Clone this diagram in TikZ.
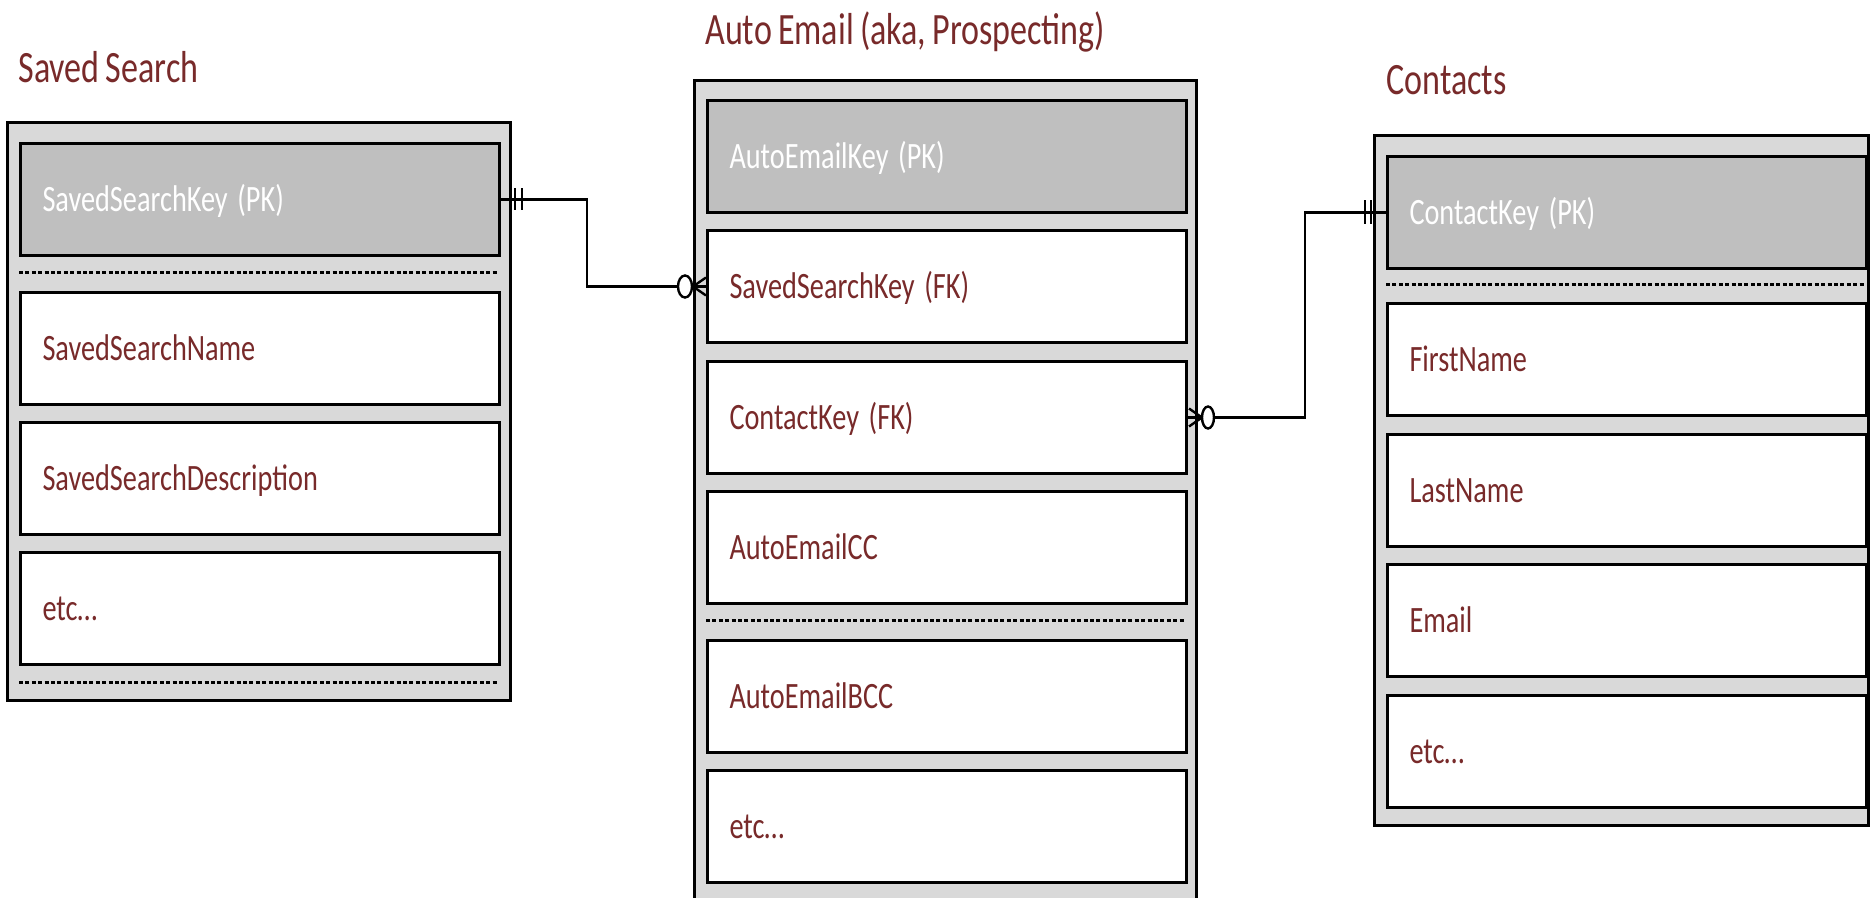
\documentclass[tikz,border=0pt]{standalone}
\usepackage{fontspec}
\setmainfont{Carlito}[FakeStretch=0.76,WordSpace=0.8]
\usetikzlibrary{calc}
\definecolor{tabgray}{RGB}{217,217,217}
\definecolor{keygray}{RGB}{191,191,191}
\definecolor{darkred}{RGB}{120,42,42}
\tikzset{
	tablebox/.style={draw,line width=1.5pt,fill=tabgray},
	fieldbox/.style={draw,line width=1.5pt,fill=white,anchor=north west,minimum width=239.5pt,minimum height=56pt,
		text width=217.5pt,inner xsep=11pt,align=flush left,text height=12pt,text depth=0pt,text=darkred,
		font=\fontsize{18.6}{20}\selectfont,execute at begin node={\spaceskip=0.26em\relax}},
	keybox/.style={fieldbox,fill=keygray,text=white},
	tabletitle/.style={anchor=base west,inner sep=0pt,text=darkred,font=\fontsize{22.4}{25}\selectfont},
	dotsep/.style={line width=1.5pt,dash pattern=on 2pt off 1.2pt},
	conn/.style={line width=1.2pt},
}
\begin{document}
\begin{tikzpicture}[x=0.5pt,y=-0.5pt]
	\useasboundingbox (0,0) rectangle (1870,898);
	% titles
	\node[tabletitle] (sstitle) at (18,83) {Saved Search};
	\node[tabletitle] (aetitle) at (705,45) {Auto Email (aka, Prospecting)};
	\node[tabletitle] (cttitle) at (1386,95) {Contacts};
	% Saved Search
	\draw[tablebox] (7,123) rectangle (510,700);
	\node[keybox] (sskey) at (19,142) {SavedSearchKey (PK)};
	\foreach \nm/\y/\txt in {ssname/291/SavedSearchName,ssdesc/421/SavedSearchDescription,ssetc/551/etc…}
		\node[fieldbox] (\nm) at (19,\y) {\txt};
	\draw[dotsep] (19,273) -- (498,273) (19,682) -- (498,682);
	% Auto Email
	\draw[tablebox] (694,81) rectangle (1196,910);
	\node[keybox] (aekey) at (706,99) {AutoEmailKey (PK)};
	\foreach \nm/\y/\txt in {aesskey/229/SavedSearchKey (FK),aeckey/360/ContactKey (FK),aecc/490/AutoEmailCC,aebcc/639/AutoEmailBCC,aeetc/769/etc…}
		\node[fieldbox] (\nm) at (706,\y) {\txt};
	\draw[dotsep] (706,621) -- (1184,621);
	% Contacts
	\draw[tablebox] (1374,136) rectangle (1868,825);
	\node[keybox] (ctkey) at (1386,155) {ContactKey (PK)};
	\foreach \nm/\y/\txt in {ctfirst/302/FirstName,ctlast/433/LastName,ctemail/563/Email,ctetc/694/etc…}
		\node[fieldbox] (\nm) at (1386,\y) {\txt};
	\draw[dotsep] (1386,285) -- (1864,285);
	% relations
	\draw[conn] (sskey.east) -- ++(86,0) |- (aesskey.west);
	\draw[conn] ($(sskey.east)+(14,-11)$) -- ++(0,22) ($(sskey.east)+(21,-11)$) -- ++(0,22);
	\draw[conn] ($(aesskey.west)+(0,-9)$) -- ++(-13,9) -- ($(aesskey.west)+(0,9)$);
	\draw[conn,fill=white] ($(aesskey.west)+(-21,0)$) ellipse [x radius=3.5pt,y radius=5.5pt];
	\draw[conn] (aeckey.east) -- ++(117,0) |- (ctkey.west);
	\draw[conn] ($(ctkey.west)+(-21,-12)$) -- ++(0,24) ($(ctkey.west)+(-15,-12)$) -- ++(0,24);
	\draw[conn] ($(aeckey.east)+(1,-9)$) -- ++(13,9) -- ($(aeckey.east)+(1,9)$);
	\draw[conn,fill=white] ($(aeckey.east)+(20,0)$) ellipse [x radius=3pt,y radius=5.5pt];
\end{tikzpicture}
\end{document}
